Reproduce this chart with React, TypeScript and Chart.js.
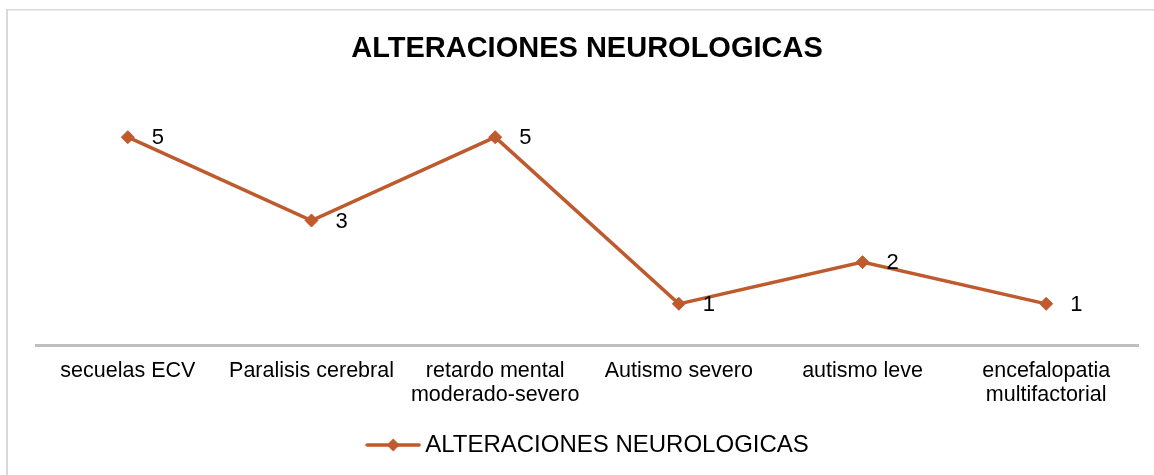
import React, { useEffect, useRef } from "react";
import { Chart, registerables } from "chart.js";

Chart.register(...registerables);

const TITLE = "ALTERACIONES NEUROLOGICAS";
const SERIES_NAME = "ALTERACIONES NEUROLOGICAS";
const categories: (string | string[])[] = [
  "secuelas ECV",
  "Paralisis cerebral",
  ["retardo mental", "moderado-severo"],
  "Autismo severo",
  "autismo leve",
  ["encefalopatia", "multifactorial"],
];
const values: number[] = [5, 3, 5, 1, 2, 1];
const Y_MIN = 0;
const Y_MAX = 6;

const LINE_COLOR = "#BE5A2D";
const FONT = "'Liberation Sans', Arial, sans-serif";

function makeLegendMarker(): HTMLCanvasElement {
  const c = document.createElement("canvas");
  c.width = 56;
  c.height = 16;
  const ctx = c.getContext("2d")!;
  ctx.strokeStyle = LINE_COLOR;
  ctx.lineWidth = 3.5;
  ctx.lineCap = "round";
  ctx.beginPath();
  ctx.moveTo(2, 8);
  ctx.lineTo(54, 8);
  ctx.stroke();
  ctx.fillStyle = LINE_COLOR;
  ctx.beginPath();
  ctx.moveTo(28 - 6.5, 8);
  ctx.lineTo(28, 1.5);
  ctx.lineTo(28 + 6.5, 8);
  ctx.lineTo(28, 14.5);
  ctx.closePath();
  ctx.fill();
  return c;
}

const framePlugin = {
  id: "frame",
  beforeDraw(chart: any) {
    const ctx = chart.ctx;
    ctx.save();
    ctx.fillStyle = "#ffffff";
    ctx.fillRect(0, 0, chart.width, chart.height);
    ctx.fillStyle = "#D9D9D9";
    ctx.fillRect(6, 9, 2, chart.height - 9);
    ctx.fillRect(6, 9, chart.width - 6, 1.5);
    ctx.restore();
  },
};

const legendShiftPlugin = {
  id: "legendShift",
  afterLayout(chart: any) {
    if (chart.legend) {
      chart.legend.left += 4;
      chart.legend.right += 4;
    }
  },
};

const dataLabelPlugin = {
  id: "dataLabels",
  afterDatasetsDraw(chart: any) {
    const ctx = chart.ctx;
    ctx.save();
    ctx.fillStyle = "#000000";
    ctx.font = `22px ${FONT}`;
    ctx.textAlign = "left";
    ctx.textBaseline = "middle";
    chart.data.datasets.forEach((ds: any, di: number) => {
      const meta = chart.getDatasetMeta(di);
      meta.data.forEach((pt: any, i: number) => {
        ctx.fillText(String(ds.data[i]), pt.x + 24, pt.y + 1);
      });
    });
    ctx.restore();
  },
};

export default function App() {
  const ref = useRef<HTMLCanvasElement | null>(null);

  useEffect(() => {
    if (!ref.current) return;
    const marker = makeLegendMarker();
    const chart = new Chart(ref.current, {
      type: "line",
      data: {
        labels: categories,
        datasets: [
          {
            label: SERIES_NAME,
            data: values,
            borderColor: LINE_COLOR,
            backgroundColor: LINE_COLOR,
            borderWidth: 3.5,
            pointStyle: "rectRot",
            pointRadius: 6.5,
            pointBackgroundColor: LINE_COLOR,
            pointBorderColor: LINE_COLOR,
            pointBorderWidth: 1,
            tension: 0,
            fill: false,
          },
        ],
      },
      options: {
        responsive: false,
        animation: false,
        devicePixelRatio: 1,
        layout: { padding: { left: 36, right: 16, top: 0, bottom: 8 } },
        plugins: {
          title: {
            display: true,
            text: TITLE,
            color: "#000000",
            font: { family: FONT, size: 29, weight: "bold", lineHeight: 1.2 },
            padding: { top: 32, bottom: 28.7 },
          },
          legend: {
            display: true,
            position: "bottom",
            labels: {
              usePointStyle: true,
              pointStyle: marker as any,
              pointStyleWidth: 40,
              color: "#000000",
              font: { family: FONT, size: 24 },
              padding: 10,
            },
          },
          tooltip: { enabled: false },
        },
        scales: {
          x: {
            type: "category",
            offset: true,
            grid: { display: false, drawTicks: false },
            border: { display: true, color: "#BFBFBF", width: 3 },
            ticks: {
              color: "#000000",
              font: { family: FONT, size: 21.5, lineHeight: 24 / 21.5 },
              padding: 14,
              maxRotation: 0,
              autoSkip: false,
            },
            afterFit: (s: any) => {
              s.height = 77.5;
            },
          },
          y: { display: false, min: Y_MIN, max: Y_MAX },
        },
      },
      plugins: [framePlugin, legendShiftPlugin, dataLabelPlugin],
    } as any);
    return () => chart.destroy();
  }, []);

  return (
    <div style={{ position: "absolute", left: 0, top: 0, width: 1154, height: 475 }}>
      <canvas ref={ref} width={1154} height={475} style={{ display: "block" }} />
    </div>
  );
}
